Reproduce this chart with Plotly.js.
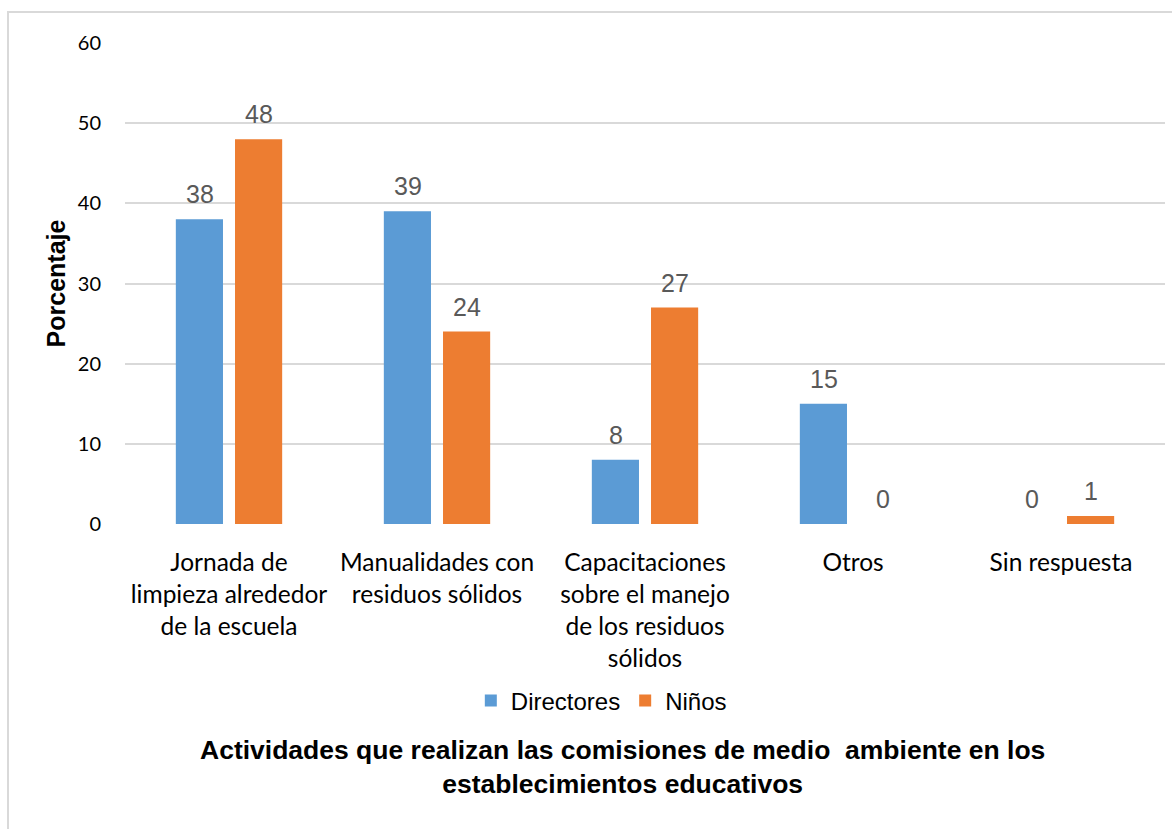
<!DOCTYPE html>
<html>
<head>
<meta charset="utf-8">
<script src="https://cdn.plot.ly/plotly-3.0.1.min.js"></script>
<style>
  html, body { margin: 0; padding: 0; background: #fff; overflow: hidden; }
  #frame { position: absolute; left: 7px; top: 11px; width: 1200px; height: 900px; border: 2px solid #d9d9d9; box-sizing: border-box; }
  #chart { position: absolute; left: 0; top: 0; width: 1172px; height: 829px; }
</style>
</head>
<body>
<div id="frame"></div>
<div id="chart"></div>
<script>
const categories = [
  "Jornada de<br>limpieza alrededor<br>de la escuela",
  "Manualidades con<br>residuos sólidos",
  "Capacitaciones<br>sobre el manejo<br>de los residuos<br>sólidos",
  "Otros",
  "Sin respuesta"
];
const directores = [38, 39, 8, 15, 0];
const ninos = [48, 24, 27, 0, 1];
const seriesNames = ["Directores", "Niños"];
const yTicks = [0, 10, 20, 30, 40, 50, 60];
const chartTitle = "<b>Actividades que realizan las comisiones de medio  ambiente en los<br>establecimientos educativos</b>";
const yTitle = "<b>Porcentaje</b>";

const colors = ["#5B9BD5", "#ED7D31"];
const allSeries = [directores, ninos];

const traces = allSeries.map((vals, i) => ({
  type: "bar",
  name: seriesNames[i],
  x: categories,
  y: vals,
  marker: { color: colors[i] },
  hoverinfo: "skip"
}));

const annotations = [];
allSeries.forEach((vals, i) => {
  vals.forEach((v, j) => {
    annotations.push({
      xref: "x", yref: "y",
      x: categories[j], y: v,
      text: String(v),
      showarrow: false,
      yanchor: "bottom",
      yshift: 9,
      xshift: i === 0 ? -29.5 : 29.5,
      font: { family: "Liberation Sans, Arial, sans-serif", size: 25, color: "#595959" }
    });
  });
});
annotations.push({
  xref: "paper", yref: "paper",
  x: 0.478, y: -0.505,
  text: chartTitle,
  showarrow: false,
  xanchor: "center", yanchor: "middle",
  font: { family: "Liberation Sans, Arial, sans-serif", size: 26.5, color: "#000" }
});

const layout = {
  width: 1172, height: 829,
  margin: { l: 125, r: 7, t: 43, b: 305 },
  paper_bgcolor: "rgba(0,0,0,0)",
  plot_bgcolor: "rgba(0,0,0,0)",
  barmode: "group",
  bargap: 0.431,
  bargroupgap: 0.203,
  showlegend: true,
  legend: {
    orientation: "h",
    x: 0.458, xanchor: "center",
    y: -0.368, yanchor: "middle",
    font: { family: "Liberation Sans, Arial, sans-serif", size: 24, color: "#000" },
    itemwidth: 30,
    traceorder: "normal"
  },
  xaxis: {
    type: "category",
    tickfont: { family: "Lato, Open Sans, sans-serif", size: 24.5, color: "#000" },
    ticks: "outside", ticklen: 17, tickcolor: "rgba(0,0,0,0)",
    showline: false, showgrid: false, zeroline: false,
    automargin: false
  },
  yaxis: {
    range: [0, 60],
    tickvals: yTicks,
    ticktext: yTicks.map(String),
    tickfont: { family: "Lato, Open Sans, sans-serif", size: 20, color: "#000" },
    ticks: "outside", ticklen: 19, tickcolor: "rgba(0,0,0,0)",
    showgrid: true, gridcolor: "#d9d9d9", gridwidth: 2,
    zeroline: false, showline: false,
    automargin: false,
    title: { text: yTitle, standoff: 5, font: { family: "Liberation Sans, Arial, sans-serif", size: 25, color: "#000" } }
  },
  annotations: annotations
};

Plotly.newPlot("chart", traces, layout, { displayModeBar: false, staticPlot: true });
</script>
</body>
</html>
